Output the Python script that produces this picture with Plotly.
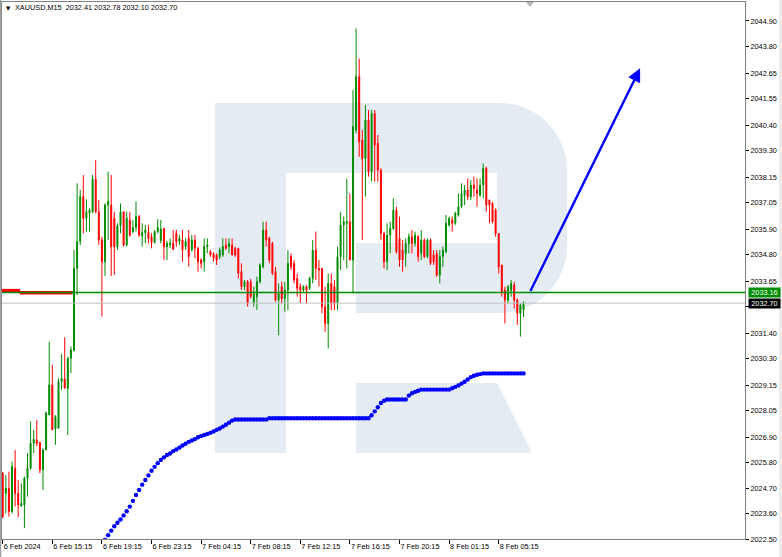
import plotly.graph_objects as go

# ---------------- data ----------------
bar_index = list(range(169))
opens = [2025.34, 2024.48, 2024.69, 2023.69, 2025.56, 2024.48, 2023.93, 2023.97, 2025.13, 2025.56,
         2026.64, 2026.78, 2026.68, 2025.49, 2026.35, 2027.86, 2029.16, 2027.26, 2027.29, 2029.31,
         2029.42, 2029.02, 2030.31, 2030.67, 2034.20, 2035.36, 2037.30, 2036.37, 2036.58, 2036.65,
         2038.05, 2036.65, 2035.43, 2034.49, 2036.94, 2036.94, 2036.37, 2035.14, 2036.04, 2036.65,
         2035.21, 2036.29, 2035.79, 2035.97, 2036.44, 2035.60, 2035.75, 2035.75, 2035.57, 2035.32,
         2035.79, 2035.40, 2035.93, 2035.14, 2035.22, 2035.29, 2035.72, 2035.36, 2035.43, 2035.14,
         2035.50, 2035.00, 2035.43, 2035.07, 2034.56, 2034.49, 2035.14, 2034.93, 2034.85, 2034.78,
         2034.71, 2034.78, 2035.21, 2035.14, 2035.21, 2035.07, 2035.07, 2034.06, 2033.41, 2033.63,
         2033.62, 2032.69, 2032.98, 2033.62, 2034.27, 2035.86, 2035.50, 2035.28, 2034.06, 2032.83,
         2033.41, 2032.90, 2033.26, 2034.71, 2034.42, 2033.77, 2033.41, 2033.26, 2033.41, 2033.34,
         2033.77, 2034.99, 2034.20, 2034.20, 2032.54, 2031.82, 2033.55, 2033.41, 2032.69, 2034.71,
         2036.08, 2036.15, 2036.22, 2034.56, 2040.18, 2042.49, 2039.75, 2038.96, 2040.62, 2038.38,
         2040.90, 2039.61, 2038.45, 2035.71, 2034.49, 2035.64, 2035.93, 2036.72, 2035.50, 2034.99,
         2034.85, 2035.28, 2035.57, 2035.28, 2035.57, 2034.85, 2035.43, 2034.71, 2035.43, 2034.78,
         2034.85, 2033.91, 2034.71, 2034.92, 2036.08, 2036.29, 2036.15, 2036.51, 2036.87, 2037.37,
         2037.59, 2037.30, 2037.80, 2037.59, 2037.37, 2037.80, 2038.53, 2037.16, 2037.01, 2036.72,
         2035.71, 2034.35, 2033.26, 2032.83, 2033.26, 2033.48, 2032.83, 2032.26, 2032.41]
highs = [2025.40, 2025.27, 2025.41, 2025.85, 2026.35, 2025.05, 2024.91, 2025.20, 2026.21, 2027.58,
         2027.22, 2027.65, 2026.68, 2026.42, 2028.01, 2031.03, 2030.03, 2027.86, 2029.45, 2030.50,
         2031.22, 2030.39, 2030.82, 2035.00, 2037.88, 2037.60, 2038.24, 2037.19, 2036.80, 2038.24,
         2038.89, 2037.16, 2035.57, 2037.01, 2038.38, 2038.24, 2036.65, 2036.15, 2037.01, 2036.65,
         2036.65, 2036.65, 2036.29, 2037.09, 2036.51, 2036.15, 2036.08, 2036.08, 2035.72, 2035.86,
         2036.33, 2036.30, 2035.95, 2035.40, 2035.50, 2035.86, 2035.86, 2035.65, 2035.86, 2035.50,
         2035.86, 2035.65, 2035.65, 2035.14, 2034.64, 2035.50, 2035.50, 2035.00, 2034.90, 2034.85,
         2035.10, 2035.50, 2035.50, 2035.50, 2035.50, 2035.14, 2035.07, 2034.42, 2033.70, 2033.70,
         2033.75, 2033.41, 2033.84, 2034.42, 2036.22, 2036.22, 2035.57, 2035.35, 2034.27, 2033.55,
         2033.62, 2033.62, 2034.99, 2034.85, 2034.56, 2033.98, 2033.55, 2033.48, 2033.48, 2033.84,
         2035.43, 2035.79, 2034.56, 2034.20, 2033.41, 2033.98, 2033.98, 2033.70, 2035.14, 2036.65,
         2036.44, 2038.09, 2037.44, 2041.91, 2044.58, 2043.28, 2040.18, 2041.26, 2041.05, 2041.05,
         2041.05, 2039.97, 2038.53, 2035.79, 2036.15, 2036.22, 2037.23, 2036.87, 2036.44, 2035.43,
         2035.50, 2035.71, 2035.86, 2035.79, 2035.64, 2035.86, 2035.50, 2035.50, 2035.50, 2034.99,
         2034.99, 2034.99, 2035.14, 2036.51, 2036.44, 2036.44, 2036.65, 2037.44, 2037.88, 2037.80,
         2038.09, 2038.02, 2038.17, 2038.09, 2038.09, 2038.74, 2038.60, 2037.16, 2037.08, 2036.80,
         2035.71, 2034.35, 2033.41, 2033.48, 2033.70, 2033.62, 2032.90, 2032.69, 2032.78]
lows = [2023.40, 2023.61, 2023.47, 2023.61, 2023.90, 2023.44, 2023.90, 2022.97, 2024.33, 2025.49,
        2026.21, 2026.50, 2025.34, 2024.62, 2026.35, 2027.86, 2027.22, 2026.57, 2027.29, 2028.95,
        2029.02, 2027.00, 2029.67, 2030.60, 2033.05, 2035.20, 2035.72, 2035.79, 2035.79, 2036.58,
        2036.58, 2035.21, 2032.12, 2033.87, 2035.43, 2033.87, 2033.92, 2035.00, 2035.72, 2035.14,
        2035.14, 2035.57, 2035.72, 2035.79, 2035.57, 2035.14, 2035.28, 2035.28, 2035.07, 2035.28,
        2035.72, 2035.28, 2034.56, 2034.56, 2035.07, 2035.00, 2035.14, 2035.21, 2034.49, 2035.00,
        2034.28, 2034.93, 2034.64, 2034.06, 2034.20, 2034.06, 2034.85, 2034.70, 2034.50, 2034.35,
        2034.60, 2034.70, 2035.00, 2034.85, 2034.78, 2034.70, 2033.77, 2033.27, 2033.27, 2032.55,
        2032.90, 2032.54, 2032.40, 2033.55, 2034.20, 2035.14, 2034.42, 2033.91, 2032.76, 2031.32,
        2032.69, 2032.33, 2032.40, 2034.13, 2033.55, 2032.98, 2032.69, 2033.19, 2032.69, 2033.26,
        2033.55, 2033.70, 2033.41, 2032.26, 2031.46, 2030.74, 2032.40, 2032.40, 2032.40, 2034.13,
        2034.56, 2034.20, 2034.56, 2033.12, 2040.04, 2039.03, 2035.43, 2037.30, 2038.17, 2037.95,
        2037.95, 2037.95, 2035.43, 2034.20, 2034.13, 2034.85, 2035.86, 2034.85, 2034.27, 2034.06,
        2034.27, 2034.85, 2034.85, 2035.14, 2034.49, 2034.56, 2034.64, 2034.64, 2034.35, 2034.35,
        2033.84, 2033.55, 2034.27, 2034.85, 2036.00, 2035.79, 2036.08, 2036.44, 2036.80, 2036.94,
        2037.16, 2037.16, 2037.30, 2036.87, 2037.30, 2037.23, 2036.65, 2036.15, 2036.15, 2035.57,
        2033.98, 2032.98, 2031.82, 2032.69, 2032.98, 2032.47, 2031.75, 2031.25, 2032.10]
closes = [2023.47, 2024.69, 2023.69, 2025.63, 2024.48, 2023.97, 2024.04, 2025.13, 2025.56, 2026.64,
          2026.81, 2026.64, 2025.49, 2026.35, 2027.94, 2029.16, 2027.22, 2027.79, 2029.31, 2029.45,
          2029.02, 2030.31, 2030.67, 2034.20, 2035.36, 2037.30, 2036.37, 2036.65, 2036.73, 2038.05,
          2036.65, 2035.43, 2034.49, 2036.94, 2037.09, 2035.14, 2035.14, 2036.04, 2036.65, 2035.21,
          2036.37, 2035.64, 2035.97, 2036.44, 2035.64, 2035.75, 2035.86, 2035.50, 2035.32, 2035.79,
          2035.97, 2035.90, 2035.14, 2035.28, 2035.29, 2035.03, 2035.36, 2035.50, 2035.00, 2035.36,
          2034.71, 2035.43, 2035.07, 2034.49, 2034.42, 2035.14, 2035.21, 2034.78, 2034.64, 2034.56,
          2035.00, 2035.14, 2035.07, 2035.28, 2034.78, 2034.78, 2033.99, 2033.41, 2033.63, 2032.69,
          2032.98, 2033.09, 2033.63, 2034.35, 2035.86, 2035.43, 2034.56, 2033.98, 2032.83, 2033.12,
          2032.90, 2033.26, 2034.42, 2034.27, 2033.70, 2033.34, 2033.26, 2033.41, 2033.26, 2033.77,
          2034.99, 2034.20, 2034.13, 2032.54, 2031.82, 2033.55, 2032.69, 2032.69, 2034.71, 2036.08,
          2036.22, 2036.22, 2034.56, 2040.33, 2042.49, 2039.68, 2038.96, 2040.62, 2038.38, 2040.90,
          2039.53, 2038.45, 2035.71, 2034.49, 2035.64, 2035.93, 2036.72, 2034.92, 2034.56, 2034.56,
          2035.28, 2035.57, 2035.28, 2035.64, 2034.71, 2035.43, 2034.71, 2035.43, 2034.42, 2034.49,
          2033.91, 2034.71, 2034.99, 2036.15, 2036.36, 2036.15, 2036.58, 2036.87, 2037.44, 2037.59,
          2037.30, 2037.80, 2037.66, 2037.44, 2037.80, 2038.53, 2036.94, 2036.94, 2036.22, 2035.71,
          2034.27, 2033.19, 2032.83, 2033.41, 2033.55, 2032.83, 2032.26, 2032.62, 2032.70]

# trailing indicator dots (red segment left, blue segment lower)
red_stop_index = list(range(0, 23))
red_stop = [2033.24] * 6 + [2033.15] * 17
blue_stop_index = list(range(33, 169))
blue_stop = ([2022.46, 2022.66, 2022.86, 2023.05, 2023.20, 2023.34, 2023.52, 2023.70, 2023.90, 2024.15,
              2024.40, 2024.62, 2024.85, 2025.05, 2025.25, 2025.45, 2025.62, 2025.78, 2025.92, 2026.03,
              2026.13, 2026.20, 2026.30, 2026.37, 2026.45, 2026.54, 2026.62, 2026.70, 2026.76, 2026.82,
              2026.90, 2026.95, 2027.00, 2027.04, 2027.09, 2027.15, 2027.22, 2027.28, 2027.36, 2027.44,
              2027.53, 2027.62]
             + [2027.67] * 11 + [2027.72] * 33
             + [2027.85, 2028.02, 2028.20, 2028.38, 2028.48] + [2028.53] * 7
             + [2028.70, 2028.80, 2028.86, 2028.91] + [2028.96] * 10
             + [2029.02, 2029.08, 2029.14, 2029.22, 2029.30, 2029.40, 2029.50, 2029.56, 2029.60, 2029.63]
             + [2029.66] * 14)

tick_index = [0, 16, 32, 48, 64, 80, 96, 112, 128, 144, 160]
tick_labels = ["6 Feb 2024", "6 Feb 15:15", "6 Feb 19:15", "6 Feb 23:15", "7 Feb 04:15",
               "7 Feb 08:15", "7 Feb 12:15", "7 Feb 16:15", "7 Feb 20:15", "8 Feb 01:15",
               "8 Feb 05:15"]
price_ticks = [2044.90, 2043.80, 2042.65, 2041.55, 2040.40, 2039.30, 2038.15, 2037.05, 2035.90,
               2034.80, 2033.65, 2032.55, 2031.40, 2030.30, 2029.15, 2028.05, 2026.90, 2025.80,
               2024.70, 2023.60, 2022.50]
level_price = 2033.16
last_price = 2032.70
arrow_from = (170.0, 2033.16)
arrow_to = (205.6, 2042.85)
title_text = "XAUUSD,M15\u00a0\u00a02032.41 2032.78 2032.10 2032.70"

# ---------------- layout geometry ----------------
W, H = 782, 557
ML, MR, MT, MB = 2, 37, 2, 18
PW, PH = W - ML - MR, H - MT - MB
FONT = "Liberation Sans, Arial, sans-serif"
FS = 7.3
GREEN = "#008c00"
RED = "#ff0000"
WM = "#e5ebf3"


def px(x):
    return (x - ML) / PW


def py(y):
    return 1 - (y - MT) / PH


fig = go.Figure()

fig.add_trace(go.Candlestick(
    x=bar_index, open=opens, high=highs, low=lows, close=closes,
    increasing=dict(line=dict(color=GREEN, width=1), fillcolor=GREEN),
    decreasing=dict(line=dict(color=RED, width=1), fillcolor=RED),
    whiskerwidth=0, showlegend=False, hoverinfo="skip",
))

fig.add_trace(go.Scatter(
    x=red_stop_index, y=red_stop, mode="markers",
    marker=dict(symbol="square", size=3.5, color=RED, line=dict(width=0)),
    showlegend=False, hoverinfo="skip",
))
fig.add_trace(go.Scatter(
    x=blue_stop_index, y=blue_stop, mode="markers",
    marker=dict(symbol="circle", size=4.4, color="#0000ff", line=dict(width=0)),
    showlegend=False, hoverinfo="skip",
))

# watermark (logo) shapes in pixel space -> paper
bowl = (f"M {px(286)},{py(103)} L {px(500)},{py(103)} "
        f"C {px(537)},{py(103)} {px(567)},{py(133)} {px(567)},{py(170)} "
        f"L {px(567)},{py(246)} "
        f"C {px(567)},{py(283)} {px(537)},{py(313)} {px(500)},{py(313)} "
        f"L {px(356)},{py(313)} L {px(356)},{py(243)} L {px(497)},{py(243)} "
        f"L {px(497)},{py(173)} L {px(286)},{py(173)} Z")
leg = (f"M {px(356)},{py(383)} L {px(497)},{py(383)} L {px(532)},{py(453)} "
       f"L {px(356)},{py(453)} Z")
shapes = [
    dict(type="rect", xref="paper", yref="paper", x0=px(215), x1=px(286), y0=py(453), y1=py(103),
         fillcolor=WM, line=dict(width=0), layer="below"),
    dict(type="path", xref="paper", yref="paper", path=bowl, fillcolor=WM, line=dict(width=0),
         layer="below"),
    dict(type="path", xref="paper", yref="paper", path=leg, fillcolor=WM, line=dict(width=0),
         layer="below"),
    # price lines
    dict(type="line", xref="paper", yref="y", x0=0, x1=1, y0=last_price, y1=last_price,
         line=dict(color="#c0c0c0", width=1)),
    dict(type="line", xref="paper", yref="y", x0=0, x1=1, y0=level_price, y1=level_price,
         line=dict(color=GREEN, width=1.6)),
    # shift marker at top
    dict(type="path", xref="paper", yref="paper",
         path=f"M {px(526)},{py(2)} L {px(534)},{py(2)} L {px(530)},{py(7)} Z",
         fillcolor="#b8b8b8", line=dict(width=0)),
    # window borders
    dict(type="rect", xref="paper", yref="paper", x0=px(779), x1=px(782), y0=py(557), y1=py(0),
         fillcolor="#ececec", line=dict(width=0)),
    dict(type="rect", xref="paper", yref="paper", x0=px(0), x1=px(1.3), y0=py(557), y1=py(0),
         fillcolor="#a0a0a0", line=dict(width=0)),
]

annotations = [
    dict(xref="paper", yref="paper", x=px(3.5), y=py(8), xanchor="left", yanchor="middle",
         text="\u25bc", showarrow=False, font=dict(family="DejaVu Sans", size=5.5, color="#000000")),
    dict(xref="paper", yref="paper", x=px(12.5), y=py(8), xanchor="left", yanchor="middle",
         text=title_text, showarrow=False, font=dict(family=FONT, size=FS, color="#000000")),
    dict(xref="paper", yref="y", x=1, y=level_price, xanchor="left", yanchor="middle", xshift=3,
         text=f"{level_price:.2f}", showarrow=False, bgcolor=GREEN, borderpad=0, width=31,
         font=dict(family=FONT, size=FS, color="#ffffff")),
    dict(xref="paper", yref="y", x=1, y=last_price, xanchor="left", yanchor="middle", xshift=3,
         text=f"{last_price:.2f}", showarrow=False, bgcolor="#000000", borderpad=0, width=31,
         font=dict(family=FONT, size=FS, color="#ffffff")),
    dict(xref="x", yref="y", x=arrow_to[0], y=arrow_to[1], axref="x", ayref="y",
         ax=arrow_from[0], ay=arrow_from[1], text="", showarrow=True, arrowhead=2,
         arrowsize=1.1, arrowwidth=2.4, arrowcolor="#0000ff", standoff=0),
]

# the 2032.55 tick label sits hidden behind the last-price box in the reference
price_tick_text = ["" if abs(v - 2032.55) < 1e-6 else f"{v:.2f}" for v in price_ticks]

fig.update_layout(
    width=W, height=H, margin=dict(l=ML, r=MR, t=MT, b=MB),
    paper_bgcolor="#ffffff", plot_bgcolor="#ffffff",
    boxgap=0.55,
    shapes=shapes, annotations=annotations, showlegend=False,
    font=dict(family=FONT, size=FS, color="#000000"),
    xaxis=dict(range=[-0.23, 239.45], tickvals=tick_index, ticktext=tick_labels,
               ticks="outside", ticklen=4, tickcolor="#000000", tickwidth=1,
               ticklabelposition="outside right",
               showline=True, mirror=True, linecolor="#808080", linewidth=1,
               showgrid=False, zeroline=False, rangeslider=dict(visible=False),
               tickfont=dict(family=FONT, size=FS, color="#000000")),
    yaxis=dict(range=[2022.50, 2045.72], side="right", tickvals=price_ticks,
               ticktext=price_tick_text,
               ticks="outside", ticklen=3, tickcolor="#000000", tickwidth=1,
               showline=True, mirror=True, linecolor="#808080", linewidth=1,
               showgrid=False, zeroline=False,
               tickfont=dict(family=FONT, size=FS, color="#000000")),
)

fig.write_html("out.html", config={"displayModeBar": False},
               post_script="document.body.style.margin='0';document.body.style.overflow='hidden';")
